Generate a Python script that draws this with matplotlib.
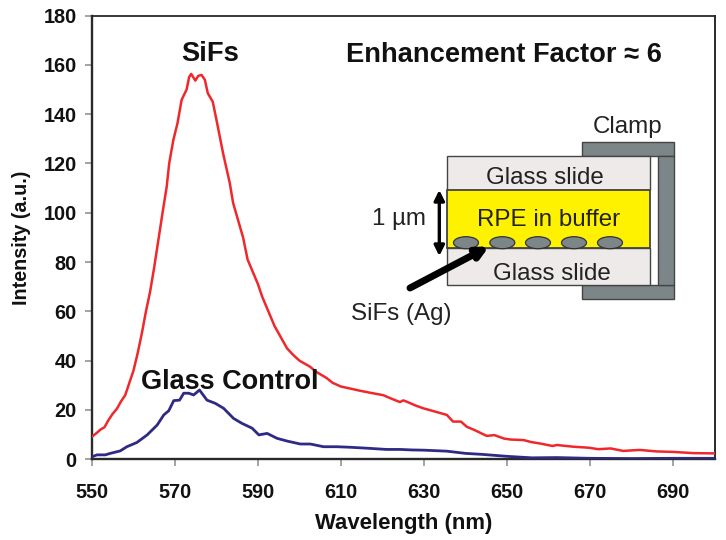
import matplotlib
matplotlib.use("Agg")
import matplotlib.pyplot as plt
from matplotlib.patches import Rectangle, Ellipse

plt.rcParams['font.family'] = ['Liberation Sans', 'DejaVu Sans']

wl_sifs = [550,551,552,553,554,555,556,557,558,559,560,561,562,563,564,565,566,567,568,568.6,569.6,570.6,571.6,572.8,573.4,573.9,574.9,575.6,576.4,577.2,577.9,579.1,580,581.6,583.2,584,585.2,586.4,587.5,589,590,591,592,593,594,595,596,597,598.5,600,602.5,604,606.5,608,610,611.4,613,614.6,617,620.2,622,624.2,625,625.8,628,629.8,633,635.5,637,638.9,640.3,642,645.1,647,649.3,651,654,655.8,658,661,662,666,669.7,672,675,678,682,686,690,695,700]
sifs = [9.2,10.5,12,13,16,18.5,20.5,23.5,26,31,36,43,51,60,68,78,89,100,110.6,120,129.5,136.3,145.8,150,155,156.3,153.6,155.5,155.9,153.9,148.5,145,137.6,124,112,104,97,90,81,75,71,66,62,58,54,51,48,45,42.3,40,37.6,35.5,33,31,29.5,29,28.4,27.8,27,26,24.7,23.2,23.9,23.4,21.8,20.7,19.2,18,15.3,15.3,13.2,12,9.5,9.8,8.4,8,7.8,7,6.4,5.4,5.8,5.1,4.7,4.1,4.4,3.4,3.8,3.2,3,2.5,2.4]

wl_glass = [550,551.2,553.2,554.4,556.8,558.4,560.8,563.3,565.7,567.3,568.5,569.7,571.1,572.1,573.3,574.5,575.9,577.7,579.7,581.7,584.1,586.1,588.6,590.2,592.2,594.6,597,600.2,602.6,605.8,609,612,616.3,621,624.3,627,630,635.5,640,644,650,656,662,670,680,690,700]
glass = [1,1.8,1.8,2.4,3.4,5.1,6.8,9.9,13.9,18,19.7,23.8,24,26.8,26.8,26.1,28.1,24,22.7,20.7,16.6,14.6,12.6,9.9,10.5,8.5,7.4,6.2,6.2,5.1,5.1,4.9,4.5,4,4,3.8,3.7,3.3,2.4,2,1.2,0.6,0.7,0.4,0.3,0.4,0.4]

x_ticks = [550,570,590,610,630,650,670,690]
y_ticks = list(range(0,181,20))

W, H = 726, 540
fig = plt.figure(figsize=(7.26,5.4), dpi=100)
ax = fig.add_axes([92/W, 1-459.3/H, (714.5-92)/W, (459.3-15.5)/H])
ax.plot(wl_sifs, sifs, color='#f0282c', lw=1.8, zorder=3)
ax.plot(wl_glass, glass, color='#2e2a86', lw=2.0, zorder=3)
ax.set_xlim(550,700); ax.set_ylim(0,180)
ax.set_xticks(x_ticks); ax.set_yticks(y_ticks)
for s in ['left','bottom','right','top']:
    ax.spines[s].set_linewidth(1.7); ax.spines[s].set_color('#2a2a2a')
ax.spines['top'].set_linewidth(1.3)
ax.spines['right'].set_linewidth(1.4)
ax.tick_params(axis='both', length=5, width=1.1, color='#8a8a8a', labelsize=14.3, pad=6)
ax.tick_params(axis='x', pad=12)
for l in ax.get_xticklabels()+ax.get_yticklabels():
    l.set_fontweight('bold'); l.set_color('#111111')
ax.set_xlabel('Wavelength (nm)', fontsize=15.9, fontweight='bold', labelpad=8, color='#111111')
ax.set_ylabel('Intensity (a.u.)', fontsize=14.2, fontweight='bold', labelpad=9, color='#111111')

# overlay in picture units for annotations and the inset sketch
ov = fig.add_axes([0,0,1,1]); ov.set_xlim(0,W); ov.set_ylim(H,0); ov.axis('off'); ov.patch.set_alpha(0)
ov.text(210,54,'SiFs',fontsize=19.7,fontweight='bold',ha='center',va='center',color='#111111')
ov.text(229.5,382,'Glass Control',fontsize=19.5,fontweight='bold',ha='center',va='center',color='#111111')
ov.text(503.5,55,'Enhancement Factor ≈ 6',fontsize=19.6,fontweight='bold',ha='center',va='center',color='#111111')

edge='#444444'
ov.add_patch(Rectangle((582.3,142.3),91.7,13.7,fc='#7c8688',ec=edge,lw=1))
ov.add_patch(Rectangle((582.3,285),91.7,14,fc='#7c8688',ec=edge,lw=1))
ov.add_patch(Rectangle((658.3,156),15.7,129,fc='#7c8688',ec=edge,lw=1))
ov.add_patch(Rectangle((446.7,156),203.3,34,fc='#eeeaea',ec=edge,lw=1))
ov.add_patch(Rectangle((446.7,248.3),203.3,36.7,fc='#eeeaea',ec=edge,lw=1))
ov.add_patch(Rectangle((446.7,190),203.3,58.3,fc='#fff200',ec=edge,lw=1.3))
for cx in [466,502.3,538,574,610]:
    ov.add_patch(Ellipse((cx,242.7),25,12,fc='#7c8688',ec='#333333',lw=0.9,zorder=4))
ov.annotate('',xy=(439.3,190),xytext=(439.3,256),arrowprops=dict(arrowstyle='<|-|>',color='black',lw=2.4,mutation_scale=15,shrinkA=0,shrinkB=0))
ov.annotate('',xy=(489,246.5),xytext=(410,288),arrowprops=dict(arrowstyle='-|>',color='black',lw=5,mutation_scale=16,shrinkA=0,shrinkB=0),zorder=5)
tc='#222222'
ov.text(628,127,'Clamp',fontsize=17.4,ha='center',va='center',color=tc)
ov.text(545,177.5,'Glass slide',fontsize=17.4,ha='center',va='center',color=tc)
ov.text(552,274,'Glass slide',fontsize=17.4,ha='center',va='center',color=tc)
ov.text(549,219.5,'RPE in buffer',fontsize=17.4,ha='center',va='center',color=tc)
ov.text(399,219,'1 µm',fontsize=17.4,ha='center',va='center',color=tc)
ov.text(401,314,'SiFs (Ag)',fontsize=17.4,ha='center',va='center',color=tc)

fig.savefig('out.png',dpi=100)
